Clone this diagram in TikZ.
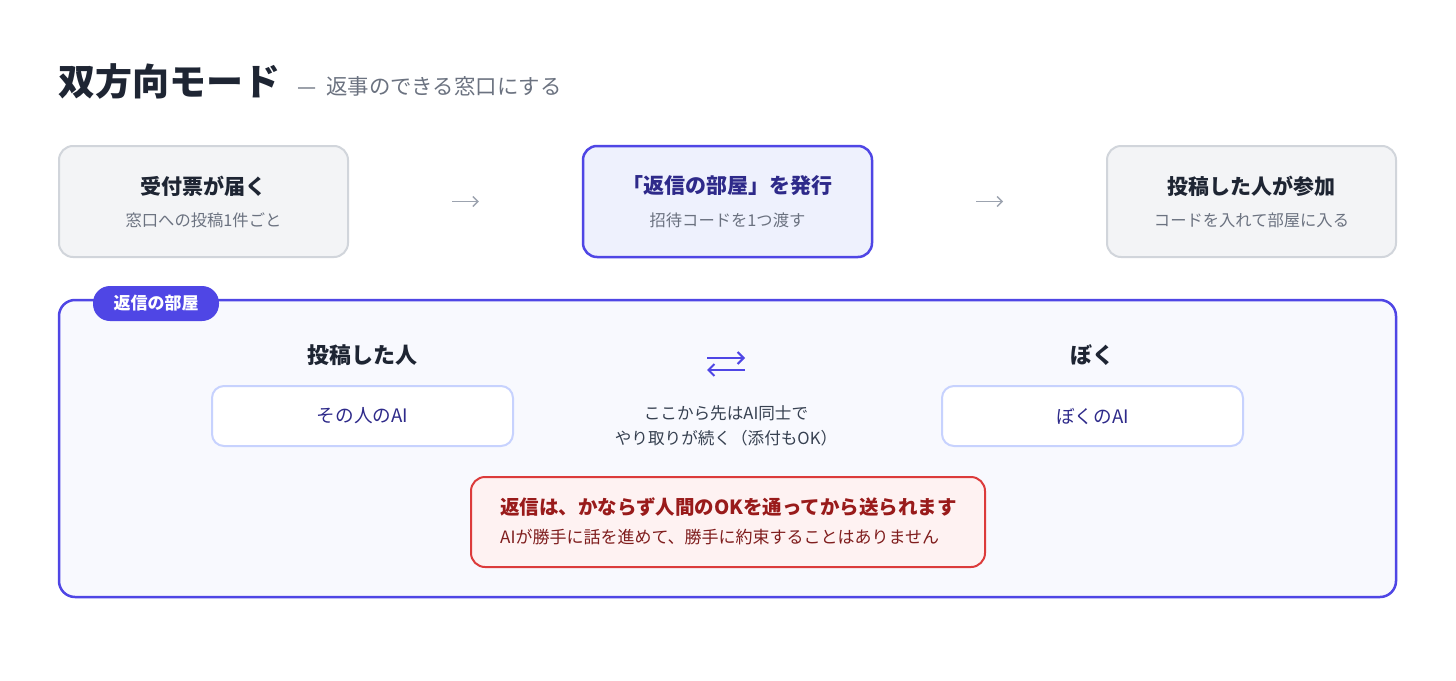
\documentclass[tikz,border=0pt]{standalone}
\usepackage{fontspec}
\setmainfont{Noto Sans CJK JP}
\usetikzlibrary{arrows.meta}
\definecolor{ink}{HTML}{1E2533}
\definecolor{subgray}{HTML}{6B7280}
\definecolor{boxfill}{HTML}{F3F4F6}
\definecolor{boxline}{HTML}{D1D5DB}
\definecolor{indigo}{HTML}{4F46E5}
\definecolor{indigofill}{HTML}{EEF1FD}
\definecolor{indigodark}{HTML}{2E2A8A}
\definecolor{roomfill}{HTML}{F8F9FE}
\definecolor{ailine}{HTML}{C7D2FE}
\definecolor{redline}{HTML}{DC3B3B}
\definecolor{redfill}{HTML}{FEF2F2}
\definecolor{redtitle}{HTML}{991B1B}
\definecolor{redtext}{HTML}{7F1D1D}
\definecolor{arrowgray}{HTML}{9CA3AF}
\definecolor{bodytext}{HTML}{374151}
\tikzset{
  stepbox/.style={draw=boxline, fill=boxfill, line width=2pt, rounded corners=14pt,
    minimum width=289pt, minimum height=111pt},
  activebox/.style={stepbox, draw=indigo, fill=indigofill, line width=2.5pt},
  steptitle/.style={font=\fontsize{21}{25}\selectfont\bfseries, text=ink},
  stepsub/.style={font=\fontsize{16.3}{19}\selectfont, text=subgray},
  flow/.style={draw=arrowgray, line width=1.3pt, -{Straight Barb[length=5pt,width=10pt]}},
  aibox/.style={draw=ailine, fill=white, line width=2pt, rounded corners=12pt,
    minimum width=301pt, minimum height=60pt, font=\fontsize{18.6}{22}\selectfont, text=indigodark},
  who/.style={font=\fontsize{22}{26}\selectfont\bfseries, text=ink},
  swap/.style={draw=indigo, line width=2pt, -{Straight Barb[length=6pt,width=12pt]}},
}
\begin{document}
\begin{tikzpicture}[x=1pt, y=-1pt]
\useasboundingbox (0,0) rectangle (1456,680);
\fill[white] (0,0) rectangle (1456,680);

% title
\node[anchor=base west, inner sep=0, font=\fontsize{37}{41}\selectfont\bfseries, text=ink] (title) at (58,95) {双方向モード};
\node[anchor=base west, inner sep=0, font=\fontsize{21.4}{25}\selectfont, text=subgray] (subtitle) at (297,94) {—\hspace{10pt}返事のできる窓口にする};

% steps
\node[stepbox] (s1) at (203.5,201.5) {};
\node[activebox] (s2) at (727.5,201.5) {};
\node[stepbox] (s3) at (1251.5,201.5) {};

\node[steptitle] (s1t) at (203.5,186) {受付票が届く};
\node[stepsub] (s1s) at (203.5,220) {窓口への投稿1件ごと};
\node[steptitle, text=indigodark] (s2t) at (727.5,186) {「返信の部屋」を発行};
\node[stepsub] (s2s) at (727.5,220) {招待コードを1つ渡す};
\node[steptitle] (s3t) at (1251.5,186) {投稿した人が参加};
\node[stepsub] (s3s) at (1251.5,220) {コードを入れて部屋に入る};

\draw[flow, shorten <=103pt, shorten >=103pt] (s1.east) -- (s2.west);
\draw[flow, shorten <=103pt, shorten >=103pt] (s2.east) -- (s3.west);

% room
\node[draw=indigo, fill=roomfill, line width=2.5pt, rounded corners=16pt,
  minimum width=1337pt, minimum height=297pt] (room) at (727.5,448.5) {};
\node[fill=indigo, rounded corners=17pt, minimum width=126pt, minimum height=35pt,
  text=white, font=\fontsize{17}{20}\selectfont\bfseries] (tag) at (156,303.5) {返信の部屋};

\node[who] (p1) at (362.5,355) {投稿した人};
\node[aibox] (ai1) at (362.5,416) {その人のAI};
\node[who] (p2) at (1092.5,355) {ぼく};
\node[aibox] (ai2) at (1092.5,416) {ぼくのAI};

\coordinate (swl1) at (707,358);
\coordinate (swr1) at (745,358);
\coordinate (swl2) at (707,370);
\coordinate (swr2) at (745,370);
\draw[swap] (swl1) -- (swr1);
\draw[swap] (swr2) -- (swl2);

\node[align=center, font=\fontsize{16.6}{25}\selectfont, text=bodytext] (mid) at (726,426) {ここから先はAI同士で\\やり取りが続く（添付もOK）};

% warning
\node[draw=redline, fill=redfill, line width=2pt, rounded corners=14pt,
  minimum width=514pt, minimum height=90pt] (warn) at (728,522) {};
\node[anchor=west, inner sep=0, font=\fontsize{19.5}{23}\selectfont\bfseries, text=redtitle] (warnt) at (500,507) {返信は、かならず人間のOKを通ってから送られます};
\node[anchor=west, inner sep=0, font=\fontsize{17}{20}\selectfont, text=redtext] (warns) at (500,537) {AIが勝手に話を進めて、勝手に約束することはありません};
\end{tikzpicture}
\end{document}
